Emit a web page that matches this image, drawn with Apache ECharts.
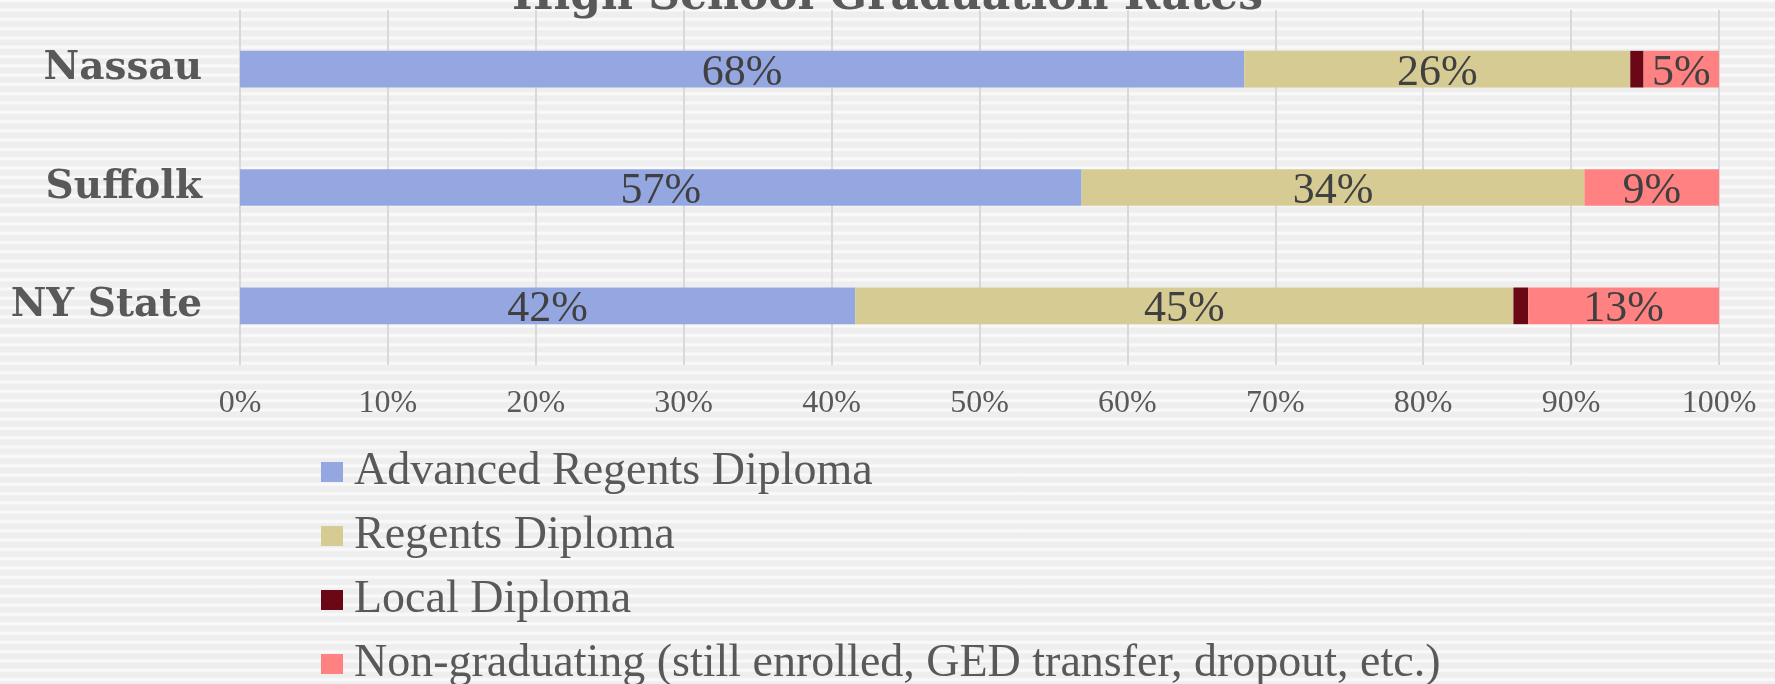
<!DOCTYPE html>
<html>
<head>
<meta charset="utf-8">
<script src="https://cdn.jsdelivr.net/npm/echarts@6/dist/echarts.min.js"></script>
<style>
html, body { margin: 0; padding: 0; }
body {
    background: repeating-linear-gradient(to bottom,
        #f9f9f9 0px, #f9f9f9 1.5px, #eeeeee 3px, #eeeeee 7.5px, #f9f9f9 9.3px);
}
#chart { width: 1775px; height: 684px; }
</style>
</head>
<body>
<div id="chart"></div>
<script>
// data
const regions = ['Nassau', 'Suffolk', 'NY State'];
const advanced = [67.9, 56.9, 41.6];
const regents = [26.1, 34.0, 44.5];
const local = [0.9, 0, 1.0];
const nonGrad = [5.1, 9.1, 12.9];
const seriesNames = [
    'Advanced Regents Diploma',
    'Regents Diploma',
    'Local Diploma',
    'Non-graduating (still enrolled, GED transfer, dropout, etc.)'
];
const colors = ['#95a7e0', '#d6cb93', '#6b0815', '#ff8181'];

const serif = '"Liberation Serif", serif';

const makeSeries = (name, data, color, showLabel) => ({
    name: name,
    type: 'bar',
    stack: 'total',
    barWidth: '31%',
    data: data,
    itemStyle: { color: color },
    label: {
        show: showLabel,
        position: 'inside',
        offset: [0, 4],
        color: '#404040',
        fontFamily: serif,
        fontSize: 44,
        formatter: p => Math.round(p.value) + '%'
    }
});

const chart = echarts.init(document.getElementById('chart'));
chart.setOption({
    backgroundColor: 'transparent',
    animation: false,
    color: colors,
    title: {
        text: 'High School Graduation Rates',
        left: 'center',
        top: -29,
        textStyle: {
            fontFamily: '"DejaVu Serif", serif',
            fontWeight: 'bold',
            fontSize: 44,
            color: '#595959'
        }
    },
    grid: { left: 240, right: 56, top: 10, bottom: 319 },
    xAxis: {
        type: 'value',
        min: 0,
        max: 100,
        interval: 10,
        axisLine: { show: false },
        axisTick: { show: false },
        splitLine: { lineStyle: { color: '#d9d9d9', width: 2 } },
        axisLabel: {
            formatter: '{value}%',
            margin: 23,
            color: '#595959',
            fontFamily: serif,
            fontSize: 32
        }
    },
    yAxis: {
        type: 'category',
        inverse: true,
        data: regions,
        axisLine: { show: false },
        axisTick: { show: false },
        axisLabel: {
            margin: 38,
            color: '#595959',
            fontFamily: '"DejaVu Serif", serif',
            fontWeight: 'bold',
            fontSize: 39
        }
    },
    legend: {
        orient: 'vertical',
        left: 321,
        top: 449,
        height: 300,
        padding: 0,
        itemWidth: 22,
        itemHeight: 20,
        itemGap: 18,
        icon: 'rect',
        data: seriesNames,
        textStyle: {
            color: '#595959',
            fontFamily: serif,
            fontSize: 46,
            padding: [0, 0, 0, 6]
        }
    },
    series: [
        makeSeries(seriesNames[0], advanced, colors[0], true),
        makeSeries(seriesNames[1], regents, colors[1], true),
        makeSeries(seriesNames[2], local, colors[2], false),
        makeSeries(seriesNames[3], nonGrad, colors[3], true)
    ]
});
</script>
</body>
</html>
